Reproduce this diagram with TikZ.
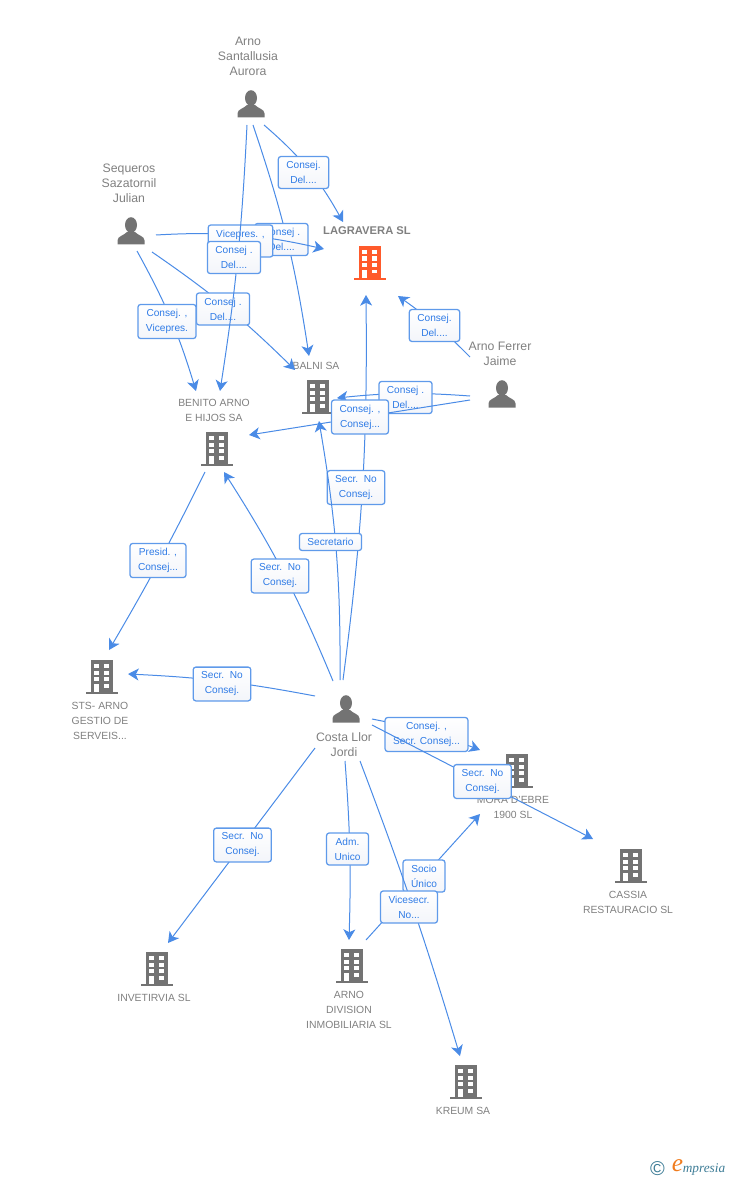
\documentclass[tikz,border=0pt]{standalone}
\usepackage{fontspec}
\setmainfont{Liberation Sans}
\newfontfamily\logofont{Liberation Serif}
\usetikzlibrary{arrows.meta}
\definecolor{icongray}{HTML}{737373}
\definecolor{iconorange}{HTML}{FF5A2B}
\definecolor{namegray}{HTML}{808080}
\definecolor{linkblue}{HTML}{4A8BE6}
\definecolor{boxblue}{HTML}{5F9AEA}
\definecolor{boxtext}{HTML}{2F7BE6}
\definecolor{boxshade}{HTML}{F3F5FA}
\definecolor{logoteal}{HTML}{3D7C96}
\definecolor{logoorange}{HTML}{F07C1E}
\tikzset{person/.style={minimum width=21pt, minimum height=21pt, inner sep=0pt, outer sep=0pt,
path picture={\begin{scope}[shift={(path picture bounding box.center)}]
\fill[icongray] (0,-6) ellipse (6 and 7.8);
\fill[icongray] (-13.5,13.5) -- (-13.5,9.5) .. controls (-13.5,5) and (-7,4.5) .. (-4,1) -- (4,1) .. controls (7,4.5) and (13.5,5) .. (13.5,9.5) -- (13.5,13.5) -- cycle;
\end{scope}}},
%body, door and windows of the block, default grey
building/.style={minimum width=24pt, minimum height=25.5pt, inner sep=0pt, outer sep=0pt,
path picture={\begin{scope}[shift={(path picture bounding box.center)}]
\fill[#1] (-11,-17) rectangle (11,15);
\fill[#1] (-16,15) rectangle (16,17);
\foreach \rowy in {-13,-6.5,0} {
\fill[white] (-8,\rowy) rectangle (-3,\rowy+4.3);
\fill[white] (2,\rowy) rectangle (7,\rowy+4.3);
}
\fill[white] (-8,6.7) rectangle (-3,15);
\fill[white] (2,6.7) rectangle (7,10.5);
\end{scope}}},
building/.default={icongray},
bigname/.style={text=namegray, align=center, inner sep=0pt, font=\fontsize{9.2}{11.25}\selectfont},
smallname/.style={text=namegray, align=center, inner sep=0pt, font=\fontsize{7.8}{11.25}\selectfont},
mainname/.style={text=namegray, inner sep=0pt, font=\fontsize{8.4}{11.25}\selectfont\bfseries},
link/.style={draw=linkblue, line width=0.75pt},
arrowlink/.style={link, -{Stealth[length=8pt, width=9pt, inset=2.2pt]}},
tag/.style={draw=boxblue, line width=0.95pt, rounded corners=2pt, top color=white, bottom color=boxshade,
text=boxtext, align=center, inner xsep=6pt, inner ysep=3.6pt, font=\fontsize{7.6}{11.25}\selectfont}}

\begin{document}
\begin{tikzpicture}[x=0.75pt, y=-0.75pt]
\useasboundingbox (0,0) rectangle (728,1180);
%people
\node[person] (arno) at (251,104) {};
\node[person] (sequeros) at (131,231) {};
\node[person] (ferrer) at (502,394) {};
\node[person] (costa) at (346,709) {};
\node[bigname] (arnoname) at (248,56) {Arno\\Santallusia\\Aurora};
\node[bigname] (sequerosname) at (129,183) {Sequeros\\Sazatornil\\Julian};
\node[bigname] (ferrername) at (500,353.5) {Arno Ferrer\\Jaime};
\node[bigname] (costaname) at (344,744.5) {Costa Llor\\Jordi};
%companies
\node[building=iconorange] (lagravera) at (370,263) {};
\node[building] (balni) at (318,397) {};
\node[building] (benito) at (217,449) {};
\node[building] (sts) at (102,677) {};
\node[building] (mora) at (517,771) {};
\node[building] (cassia) at (631,866) {};
\node[building] (invetirvia) at (157,969) {};
\node[building] (division) at (352,966) {};
\node[building] (kreum) at (466,1082) {};
\node[mainname] (lagraveraname) at (367,231) {LAGRAVERA SL};
\node[smallname] (balniname) at (316,366) {BALNI SA};
\node[smallname] (benitoname) at (214,410.5) {BENITO ARNO\\E HIJOS SA};
\node[smallname] (stsname) at (100,721) {STS- ARNO\\GESTIO DE\\SERVEIS...};
\node[smallname] (moraname) at (513,807.5) {MORA D'EBRE\\1900 SL};
\node[smallname] (cassianame) at (628,902.5) {CASSIA\\RESTAURACIO SL};
\node[smallname] (invetirvianame) at (154,998) {INVETIRVIA SL};
\node[smallname] (divisionname) at (349,1010) {ARNO\\DIVISION\\INMOBILIARIA SL};
\node[smallname] (kreumname) at (463,1111) {KREUM SA};
%links, each tag sits on top of its own line
\draw[arrowlink] ([shift={(13,21)}]arno.center) to[bend left=10] ([shift={(-27,-41)}]lagravera.center) node[tag] (tagarnolag) at (303.5,172.5) {Consej.\\Del....};
\draw[arrowlink] ([shift={(2,21)}]arno.center) to[bend left=5] ([shift={(-9,-41)}]balni.center) node[tag] (tagarnobalni) at (281.5,239.5) {Consej .\\Del....};
\draw[arrowlink] ([shift={(25,4)}]sequeros.center) to[bend left=8] ([shift={(-46,-14)}]lagravera.center) node[tag] (tagseqlag) at (240.5,241) {Vicepres. ,\\Del....};
\draw[arrowlink] ([shift={(21,21)}]sequeros.center) to[bend left=5] ([shift={(-23,-27)}]balni.center) node[tag] (tagseqbalni) at (223,309) {Consej .\\Del....};
\draw[arrowlink] ([shift={(6,20)}]sequeros.center) to[bend left=6] ([shift={(-21,-58)}]benito.center) node[tag] (tagseqbenito) at (167,321.5) {Consej. ,\\Vicepres.};
\draw[arrowlink] ([shift={(-4,21)}]arno.center) to[bend left=3] ([shift={(3,-58)}]benito.center) node[tag] (tagarnobenito) at (234,257.5) {Consej .\\Del....};
\draw[arrowlink] ([shift={(-32,-37)}]ferrer.center) to[bend right=5] ([shift={(28,33)}]lagravera.center) node[tag] (tagferrerlag) at (434.5,325.5) {Consej.\\Del....};
\draw[arrowlink] ([shift={(-32,2)}]ferrer.center) to[bend right=5] ([shift={(19,1)}]balni.center) node[tag] (tagferrerbalni) at (405.5,397.5) {Consej .\\Del....};
\draw[arrowlink] ([shift={(-3,-29)}]costa.center) to[bend right=4] ([shift={(-4,32)}]lagravera.center) node[tag] (tagcostalag) at (356,487.5) {Secr.\ \ No\\Consej.};
\draw[arrowlink] ([shift={(-32,6)}]ferrer.center) -- ([shift={(32,-14)}]benito.center) node[tag] (tagferrerbenito) at (360,417) {Consej. ,\\Consej...};
\draw[arrowlink] ([shift={(-6,-29)}]costa.center) to[bend right=5] ([shift={(1,24)}]balni.center) node[tag] (tagcostabalni) at (330.5,542) {Secretario};
\draw[arrowlink] ([shift={(-13,-28)}]costa.center) to[bend right=5] ([shift={(7,23)}]benito.center) node[tag] (tagcostabenito) at (280,576) {Secr.\ \ No\\Consej.};
\draw[arrowlink] ([shift={(-12,23)}]benito.center) to[bend left=2] ([shift={(7,-27)}]sts.center) node[tag] (tagbenitosts) at (158,560.5) {Presid. ,\\Consej...};
\draw[arrowlink] ([shift={(-31,-13)}]costa.center) to[bend right=4] ([shift={(26,-3)}]sts.center) node[tag] (tagcostasts) at (222,684) {Secr.\ \ No\\Consej.};
\draw[arrowlink] ([shift={(26,10)}]costa.center) to[bend left=5] ([shift={(-37,-21)}]mora.center) node[tag] (tagcostamora) at (426.5,734.5) {Consej. ,\\Secr. Consej...};
\draw[arrowlink] ([shift={(26,16)}]costa.center) -- ([shift={(-38,-27)}]cassia.center) node[tag] (tagcostacassia) at (482.5,781.5) {Secr.\ \ No\\Consej.};
\draw[arrowlink] ([shift={(-31,39)}]costa.center) -- ([shift={(11,-26)}]invetirvia.center) node[tag] (tagcostainvet) at (242.5,845) {Secr.\ \ No\\Consej.};
\draw[arrowlink] ([shift={(-1,52)}]costa.center) to[bend left=3] ([shift={(-3,-26)}]division.center) node[tag] (tagcostadiv) at (347.5,849) {Adm.\\Unico};
\draw[arrowlink] ([shift={(14,-26)}]division.center) -- ([shift={(-37,43)}]mora.center) node[tag] (tagdivmora) at (424,876) {Socio\\Único};
\draw[arrowlink] ([shift={(14,52)}]costa.center) to[bend left=2] ([shift={(-6,-26)}]kreum.center) node[tag] (tagcostakreum) at (409,907) {Vicesecr.\\No...};
%logo
\node[text=logoteal, inner sep=0pt, font=\fontsize{15}{15}\selectfont] (logomark) at (657.5,1169) {©};
\node[text=logoorange, inner sep=0pt, font=\logofont\itshape\fontsize{19}{19}\selectfont] (logoe) at (677.5,1166) {e};
\node[text=logoteal, inner sep=0pt, font=\logofont\itshape\fontsize{10}{10}\selectfont] (logoword) at (704,1169.5) {mpresia};
\end{tikzpicture}
\end{document}
